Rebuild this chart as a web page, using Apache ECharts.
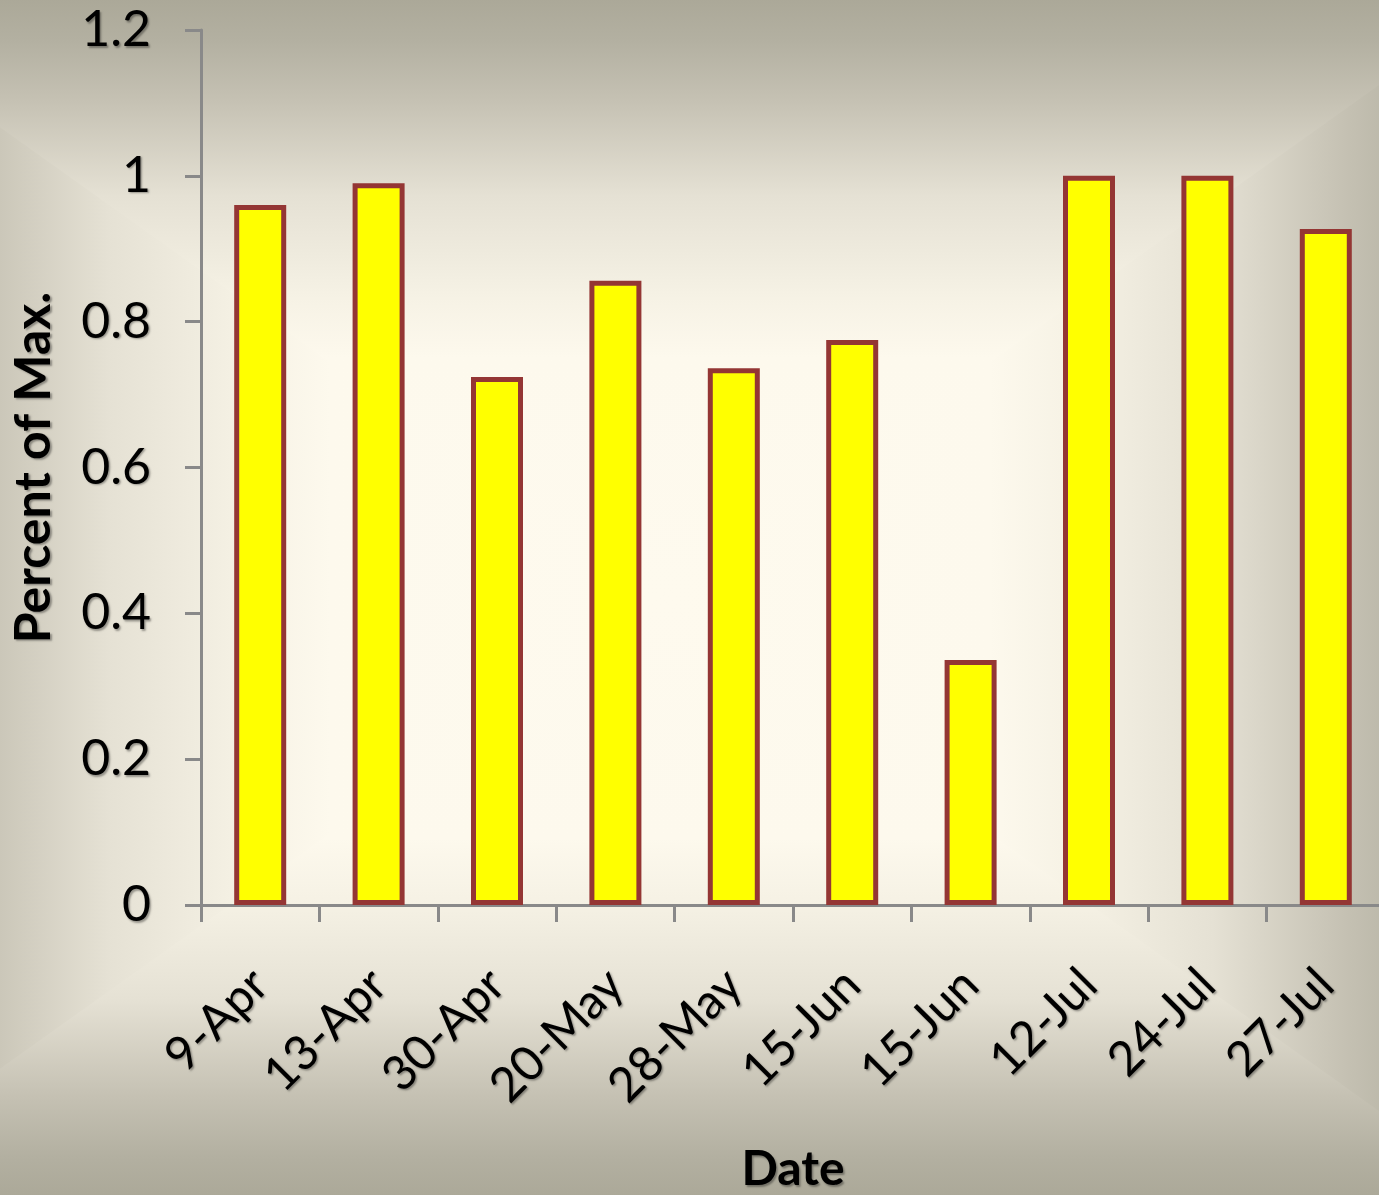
<!DOCTYPE html>
<html>
<head>
<meta charset="utf-8">
<style>
  html, body { margin: 0; padding: 0; background: #ABA898; }
  #chart { width: 1379px; height: 1195px; }
</style>
<script src="https://cdn.jsdelivr.net/npm/echarts/dist/echarts.min.js"></script>
</head>
<body>
<div id="chart"></div>
<script>
// ---- data ----
const categories = ['9-Apr', '13-Apr', '30-Apr', '20-May', '28-May', '15-Jun', '15-Jun', '12-Jul', '24-Jul', '27-Jul'];
const percentOfMax = [0.96, 0.99, 0.724, 0.856, 0.736, 0.775, 0.336, 1.0, 1.0, 0.927];
const yTicks = { min: 0, max: 1.2, interval: 0.2 };
const xTitle = 'Date';
const yTitle = 'Percent of Max.';

// ---- background: rectangular "from centre" gradient built from four triangles ----
const W = 1379, H = 1195;
const cx = 660, cy = 598, hx = 825, hy = 600;
const L = cx - hx, R = cx + hx, T = cy - hy, B = cy + hy;
const stops = [
  { offset: 0, color: '#FEFAEE' },
  { offset: 0.4, color: '#FDF9ED' },
  { offset: 0.5, color: '#F6F2E5' },
  { offset: 0.67, color: '#E5E1D4' },
  { offset: 0.83, color: '#C5C1B3' },
  { offset: 0.93, color: '#B3B0A1' },
  { offset: 1, color: '#ABA898' }
];
function lin(x, y, x2, y2) {
  return { type: 'linear', x: x, y: y, x2: x2, y2: y2, colorStops: stops };
}
const ov = 16;
const bg = [
  { type: 'rect', z: -21, silent: true, shape: { x: 0, y: 0, width: W, height: H }, style: { fill: '#FDF9ED' } },
  { type: 'polygon', z: -20, silent: true, shape: { points: [[L, T], [L, B], [cx, cy]] }, style: { fill: lin(1, 0, 0, 0) } },
  { type: 'polygon', z: -20, silent: true, shape: { points: [[R, T], [R, B], [cx, cy]] }, style: { fill: lin(0, 0, 1, 0) } },
  { type: 'polygon', z: -19, silent: true, shape: { points: [[L - ov, T], [R + ov, T], [cx, cy]] }, style: { fill: lin(0, 1, 0, 0) } },
  { type: 'polygon', z: -19, silent: true, shape: { points: [[L - ov, B], [R + ov, B], [cx, cy]] }, style: { fill: lin(0, 0, 0, 1) } }
];

const textShadow = {
  textShadowColor: 'rgba(0,0,0,0.35)',
  textShadowBlur: 2,
  textShadowOffsetX: 1.5,
  textShadowOffsetY: 1.5
};
const axisGrey = '#898989';

const chart = echarts.init(document.getElementById('chart'), null, { renderer: 'canvas' });
chart.setOption({
  backgroundColor: '#ABA898',
  animation: false,
  graphic: { elements: bg },
  grid: { left: 201, top: 30, width: 1184, height: 875, outerBoundsMode: 'none' },
  xAxis: {
    type: 'category',
    data: categories,
    name: xTitle,
    nameLocation: 'middle',
    nameGap: 241,
    nameTextStyle: Object.assign({ fontFamily: 'Lato', fontWeight: 'bold', fontSize: 48, color: '#000' }, textShadow),
    axisLine: { lineStyle: { color: axisGrey, width: 3 } },
    axisTick: { show: true, length: 17, lineStyle: { color: axisGrey, width: 3 } },
    axisLabel: Object.assign({
      rotate: 45, margin: 72, interval: 0,
      fontFamily: 'Lato', fontSize: 48, color: '#000'
    }, textShadow),
    splitLine: { show: false }
  },
  yAxis: {
    type: 'value',
    min: yTicks.min, max: yTicks.max, interval: yTicks.interval,
    name: yTitle,
    nameLocation: 'middle',
    nameGap: 142,
    nameTextStyle: Object.assign({ fontFamily: 'Lato', fontWeight: 'bold', fontSize: 50, color: '#000' }, textShadow),
    axisLine: { show: true, lineStyle: { color: axisGrey, width: 3 } },
    axisTick: { show: true, length: 16, lineStyle: { color: axisGrey, width: 3 } },
    axisLabel: Object.assign({ margin: 50, fontFamily: 'Lato', fontSize: 50, color: '#000' }, textShadow),
    splitLine: { show: false }
  },
  series: [{
    type: 'bar',
    data: percentOfMax,
    barWidth: 52,
    itemStyle: { color: '#FFFF00', borderColor: '#943634', borderWidth: 5 }
  }]
});
</script>
</body>
</html>
